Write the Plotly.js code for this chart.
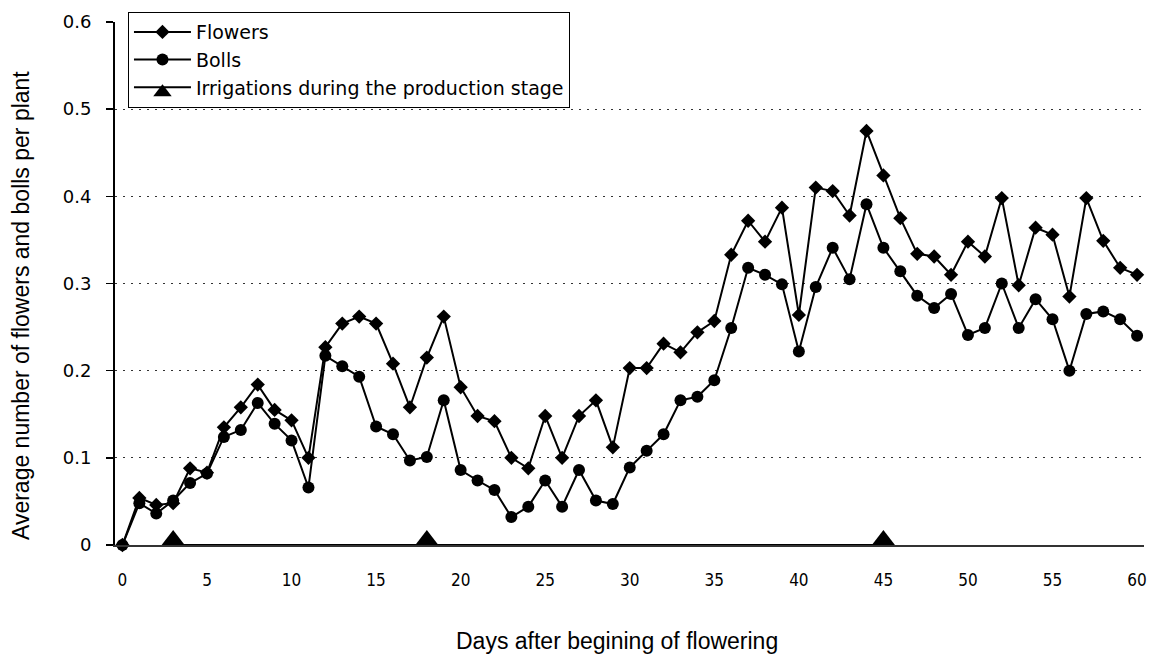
<!DOCTYPE html>
<html>
<head>
<meta charset="utf-8">
<script src="https://cdn.plot.ly/plotly-3.0.1.min.js"></script>
<style>html,body{margin:0;padding:0;background:#fff;}#chart{width:1151px;height:656px;}</style>
</head>
<body>
<div id="chart"></div>
<script>
// Days after beginning of flowering
var days = [];
for (var d = 0; d <= 60; d++) days.push(d);

var flowers = [0, 0.054, 0.046, 0.048, 0.088, 0.083, 0.135, 0.158, 0.184, 0.155,
  0.143, 0.100, 0.227, 0.254, 0.262, 0.254, 0.208, 0.158, 0.215, 0.262,
  0.181, 0.148, 0.142, 0.100, 0.088, 0.148, 0.100, 0.148, 0.166, 0.112,
  0.203, 0.203, 0.231, 0.221, 0.244, 0.257, 0.333, 0.372, 0.348, 0.387,
  0.264, 0.410, 0.406, 0.378, 0.475, 0.424, 0.375, 0.334, 0.331, 0.310,
  0.348, 0.331, 0.398, 0.298, 0.364, 0.356, 0.285, 0.398, 0.349, 0.318, 0.310];

var bolls = [0, 0.048, 0.036, 0.051, 0.071, 0.082, 0.124, 0.132, 0.163, 0.139,
  0.120, 0.066, 0.217, 0.205, 0.193, 0.136, 0.127, 0.097, 0.101, 0.166,
  0.086, 0.074, 0.063, 0.032, 0.044, 0.074, 0.044, 0.086, 0.051, 0.047,
  0.089, 0.108, 0.127, 0.166, 0.170, 0.189, 0.249, 0.318, 0.310, 0.299,
  0.222, 0.296, 0.341, 0.305, 0.391, 0.341, 0.314, 0.286, 0.272, 0.288,
  0.241, 0.249, 0.300, 0.249, 0.282, 0.259, 0.200, 0.265, 0.268, 0.259, 0.240];

var irrigationDays = [3, 18, 45];
var irrigationValues = [0, 0, 0];

var xTickVals = [0, 5, 10, 15, 20, 25, 30, 35, 40, 45, 50, 55, 60];
var yTickVals = [0, 0.1, 0.2, 0.3, 0.4, 0.5, 0.6];
var yTickText = ['0', '0.1', '0.2', '0.3', '0.4', '0.5', '0.6'];

var xTitle = 'Days after begining of flowering';
var yTitle = 'Average number of flowers and bolls per plant';

var traces = [
  {
    x: days, y: flowers, name: 'Flowers', type: 'scatter', mode: 'lines+markers',
    line: {color: '#000', width: 2},
    marker: {symbol: 'diamond', size: 11, color: '#000'},
    cliponaxis: false
  },
  {
    x: days, y: bolls, name: 'Bolls', type: 'scatter', mode: 'lines+markers',
    line: {color: '#000', width: 2},
    marker: {symbol: 'circle', size: 12, color: '#000'},
    cliponaxis: false
  },
  {
    // upward triangle whose base sits on the axis
    x: irrigationDays, y: irrigationValues, name: 'Irrigations during the production stage',
    type: 'scatter', mode: 'lines+markers',
    line: {color: '#000', width: 2},
    marker: {symbol: 'triangle-down', angle: 180, size: 20, color: '#000', standoff: 5},
    cliponaxis: true
  }
];

var layout = {
  width: 1151, height: 656, autosize: false,
  paper_bgcolor: '#fff', plot_bgcolor: '#fff',
  margin: {l: 115, r: 7, t: 22, b: 111, pad: 0},
  showlegend: true,
  font: {family: 'Liberation Sans, Arial, sans-serif', color: '#000'},
  xaxis: {
    range: [-0.44, 60.41], tickmode: 'array', tickvals: xTickVals,
    showline: true, linecolor: '#333', linewidth: 2, ticks: '',
    showgrid: false, zeroline: false, fixedrange: true,
    ticklabelstandoff: 19,
    tickfont: {family: 'Liberation Sans Narrow, DejaVu Sans Condensed, Arial Narrow, sans-serif', size: 17, color: '#000'}
  },
  yaxis: {
    range: [0, 0.6], tickmode: 'array', tickvals: yTickVals, ticktext: yTickText,
    showline: true, linecolor: '#000', linewidth: 2,
    ticks: 'outside', ticklen: 7, tickwidth: 1.5, tickcolor: '#000',
    showgrid: true, gridcolor: '#333', gridwidth: 1, griddash: '2px,6px',
    zeroline: false, fixedrange: true,
    ticklabelstandoff: 11,
    tickfont: {family: 'DejaVu Sans, sans-serif', size: 18, color: '#000'}
  },
  annotations: [
    {text: xTitle, xref: 'paper', yref: 'paper', x: 0.4879, y: -0.1836,
      xanchor: 'center', yanchor: 'middle', showarrow: false,
      font: {family: 'Liberation Sans, Arial, sans-serif', size: 23, color: '#000'}},
    {text: yTitle, xref: 'paper', yref: 'paper', x: -0.0913, y: 0.457,
      xanchor: 'center', yanchor: 'middle', showarrow: false, textangle: -90,
      font: {family: 'Liberation Sans, Arial, sans-serif', size: 23, color: '#000'}}
  ],
  legend: {
    x: 0.0126, y: 1.019, xanchor: 'left', yanchor: 'top',
    bgcolor: '#fff', bordercolor: '#000', borderwidth: 1,
    font: {family: 'DejaVu Sans, sans-serif', size: 19, color: '#000'},
    traceorder: 'normal', tracegroupgap: 0, itemwidth: 57
  }
};

Plotly.newPlot('chart', traces, layout, {displayModeBar: false, staticPlot: true});
</script>
</body>
</html>
